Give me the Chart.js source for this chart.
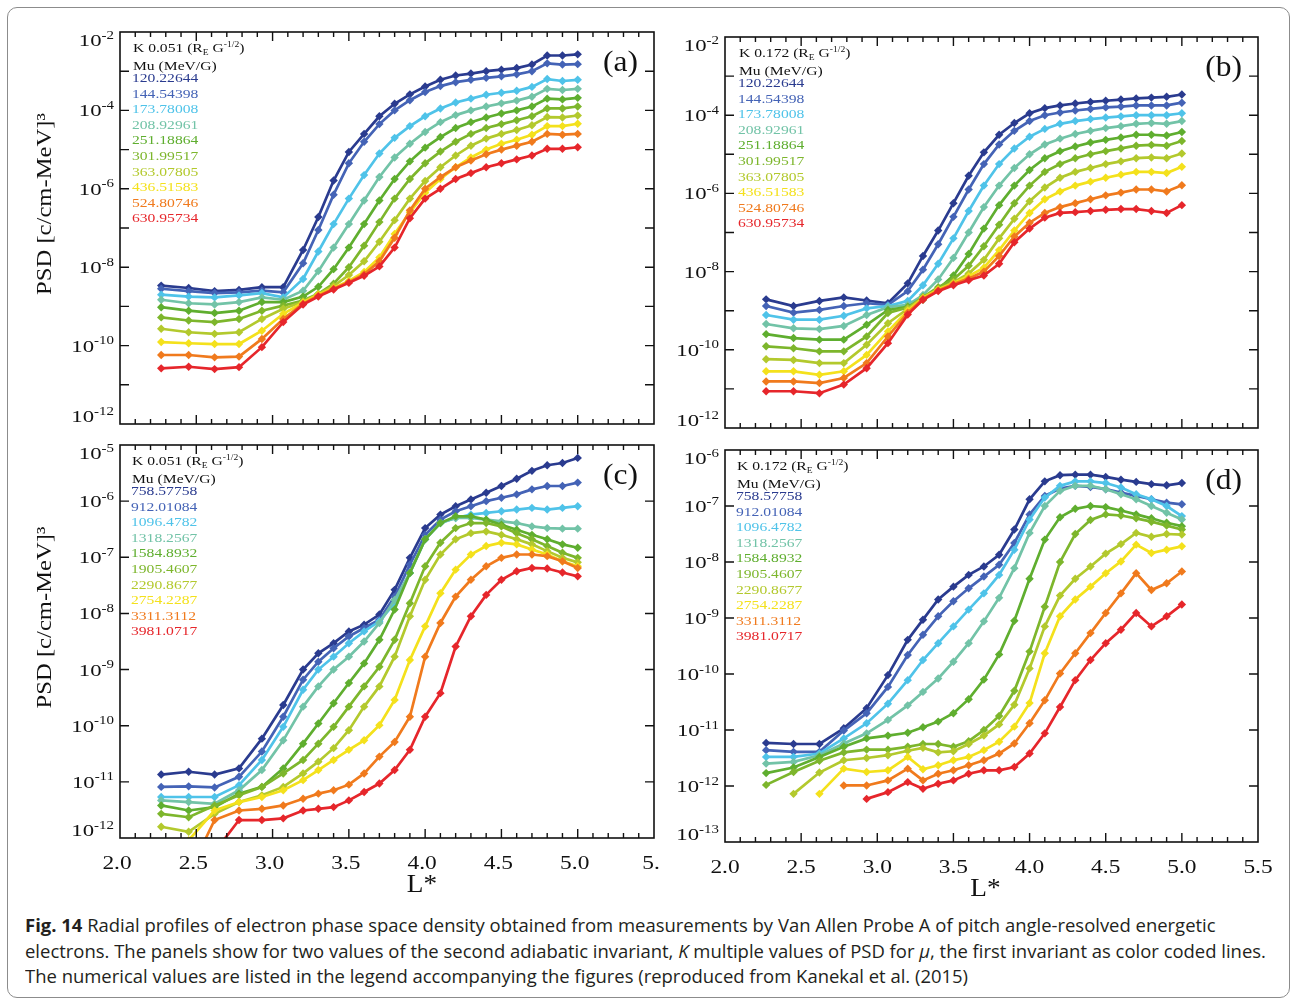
<!DOCTYPE html>
<html>
<head>
<meta charset="utf-8">
<script src="https://cdn.jsdelivr.net/npm/chart.js@4.4.1/dist/chart.umd.min.js"></script>
<style>
  html, body { margin: 0; padding: 0; background: #fff; }
  #page { position: relative; width: 1294px; height: 1003px; overflow: hidden; background: #fff; }
  #frame { position: absolute; left: 7px; top: 7px; width: 1283px; height: 991px;
           border: 1.5px solid #8c8c8c; border-radius: 10px; box-sizing: border-box; }
  .panel { position: absolute; }
  .panel canvas { display: block; }
  #caption { position: absolute; left: 25px; top: 913px; white-space: nowrap;
             font-family: 'Open Sans', 'Noto Sans', sans-serif; font-size: 18px; line-height: 25.5px;
             color: #231f20; transform: scaleX(1.025); transform-origin: left top; }
  #caption b { font-weight: 700; }
</style>
</head>
<body>
<div id="page">
  <div id="frame"></div>
  <div class="panel" style="left:0;top:0"><canvas id="panelA" width="660" height="440"></canvas></div>
  <div class="panel" style="left:660px;top:0"><canvas id="panelB" width="634" height="440"></canvas></div>
  <div class="panel" style="left:0;top:440px"><canvas id="panelC" width="660" height="460"></canvas></div>
  <div class="panel" style="left:660px;top:440px"><canvas id="panelD" width="634" height="460"></canvas></div>
  <div id="caption"><b>Fig. 14</b> Radial profiles of electron phase space density obtained from measurements by Van Allen Probe A of pitch angle-resolved energetic<br>electrons. The panels show for two values of the second adiabatic invariant, <i>K</i> multiple values of PSD for <i>μ</i>, the first invariant as color coded lines.<br>The numerical values are listed in the legend accompanying the figures (reproduced from Kanekal et al. (2015)</div>
</div>
<script>
// L* positions of the measurements (same grid in every panel)
const L_GRID = [2.27, 2.45, 2.62, 2.78, 2.93, 3.07, 3.2, 3.3, 3.4, 3.5, 3.6, 3.7, 3.8, 3.9,
                4.0, 4.1, 4.2, 4.3, 4.4, 4.5, 4.6, 4.7, 4.8, 4.9, 5.0];

// first invariant values (MeV/G)
const MU_LOW  = ['120.22644', '144.54398', '173.78008', '208.92961', '251.18864',
                 '301.99517', '363.07805', '436.51583', '524.80746', '630.95734'];
const MU_HIGH = ['758.57758', '912.01084', '1096.4782', '1318.2567', '1584.8932',
                 '1905.4607', '2290.8677', '2754.2287', '3311.3112', '3981.0717'];

const SERIES_COLORS = ['#2a3b8f', '#4463b6', '#4fc3e9', '#72c3a7', '#5fae2f',
                       '#7db62c', '#b3c92d', '#f4e11c', '#f07a1d', '#e6262b'];

// log10 PSD, one row per mu value
const logPsdA = [
  [-8.47,-8.53,-8.61,-8.58,-8.51,-8.51,-7.56,-6.72,-5.79,-5.06,-4.60,-4.15,-3.83,-3.59,-3.39,-3.22,-3.11,-3.06,-3.00,-2.96,-2.92,-2.83,-2.60,-2.60,-2.57],
  [-8.55,-8.61,-8.66,-8.64,-8.60,-8.64,-7.90,-7.05,-6.15,-5.35,-4.80,-4.35,-4.00,-3.74,-3.53,-3.38,-3.28,-3.22,-3.17,-3.13,-3.08,-3.00,-2.80,-2.83,-2.82],
  [-8.70,-8.75,-8.77,-8.72,-8.66,-8.77,-8.30,-7.60,-6.90,-6.25,-5.65,-5.10,-4.70,-4.40,-4.15,-3.95,-3.80,-3.70,-3.60,-3.55,-3.50,-3.40,-3.20,-3.25,-3.22],
  [-8.83,-8.92,-8.95,-8.89,-8.77,-8.83,-8.60,-8.10,-7.50,-6.90,-6.30,-5.70,-5.20,-4.85,-4.55,-4.30,-4.12,-4.00,-3.90,-3.82,-3.75,-3.65,-3.45,-3.48,-3.45],
  [-9.02,-9.11,-9.17,-9.11,-8.89,-8.89,-8.75,-8.50,-8.05,-7.50,-6.90,-6.30,-5.75,-5.30,-4.95,-4.68,-4.45,-4.30,-4.18,-4.08,-4.00,-3.90,-3.70,-3.72,-3.68],
  [-9.28,-9.36,-9.40,-9.32,-9.11,-8.98,-8.85,-8.68,-8.42,-8.00,-7.45,-6.85,-6.25,-5.75,-5.35,-5.05,-4.80,-4.60,-4.45,-4.35,-4.25,-4.15,-3.95,-3.95,-3.90],
  [-9.57,-9.66,-9.70,-9.66,-9.32,-9.06,-8.88,-8.68,-8.48,-8.20,-7.85,-7.35,-6.80,-6.25,-5.80,-5.45,-5.15,-4.90,-4.72,-4.60,-4.50,-4.38,-4.17,-4.18,-4.13],
  [-9.91,-9.94,-9.96,-9.96,-9.62,-9.19,-8.90,-8.70,-8.53,-8.35,-8.12,-7.75,-7.15,-6.60,-6.10,-5.75,-5.45,-5.20,-5.00,-4.85,-4.75,-4.62,-4.40,-4.40,-4.34],
  [-10.24,-10.24,-10.30,-10.28,-9.83,-9.32,-8.93,-8.73,-8.55,-8.38,-8.18,-7.85,-7.25,-6.55,-6.00,-5.70,-5.45,-5.28,-5.12,-5.00,-4.90,-4.80,-4.60,-4.62,-4.60],
  [-10.58,-10.54,-10.60,-10.55,-10.04,-9.40,-8.95,-8.75,-8.57,-8.40,-8.22,-7.98,-7.50,-6.75,-6.25,-6.00,-5.75,-5.60,-5.45,-5.35,-5.25,-5.15,-4.98,-4.98,-4.94]
];

const logPsdB = [
  [-8.71,-8.88,-8.75,-8.66,-8.74,-8.81,-8.30,-7.60,-6.95,-6.25,-5.55,-4.95,-4.50,-4.20,-3.95,-3.82,-3.75,-3.70,-3.66,-3.63,-3.60,-3.57,-3.55,-3.53,-3.47],
  [-8.88,-9.05,-8.98,-8.88,-8.81,-8.85,-8.50,-7.95,-7.30,-6.60,-5.90,-5.25,-4.75,-4.40,-4.15,-4.00,-3.93,-3.88,-3.84,-3.80,-3.78,-3.75,-3.75,-3.75,-3.68],
  [-9.11,-9.23,-9.23,-9.13,-8.94,-8.88,-8.75,-8.35,-7.80,-7.15,-6.45,-5.80,-5.25,-4.85,-4.55,-4.35,-4.22,-4.15,-4.10,-4.06,-4.03,-4.00,-4.00,-4.00,-3.95],
  [-9.34,-9.45,-9.47,-9.39,-9.11,-8.91,-8.85,-8.60,-8.20,-7.65,-7.00,-6.35,-5.80,-5.35,-5.00,-4.75,-4.60,-4.48,-4.40,-4.33,-4.28,-4.22,-4.20,-4.22,-4.15],
  [-9.60,-9.70,-9.74,-9.74,-9.36,-8.98,-8.90,-8.72,-8.45,-8.10,-7.55,-6.90,-6.30,-5.80,-5.40,-5.10,-4.92,-4.80,-4.70,-4.63,-4.57,-4.50,-4.50,-4.52,-4.43],
  [-9.91,-9.96,-10.04,-10.04,-9.66,-9.06,-8.92,-8.65,-8.40,-8.20,-7.85,-7.35,-6.80,-6.25,-5.80,-5.45,-5.25,-5.10,-5.00,-4.92,-4.85,-4.78,-4.76,-4.78,-4.66],
  [-10.24,-10.26,-10.34,-10.34,-9.87,-9.32,-8.95,-8.66,-8.45,-8.27,-8.05,-7.70,-7.15,-6.65,-6.20,-5.85,-5.60,-5.45,-5.35,-5.25,-5.18,-5.10,-5.08,-5.10,-4.98],
  [-10.55,-10.55,-10.64,-10.55,-10.13,-9.53,-9.00,-8.68,-8.46,-8.30,-8.12,-7.90,-7.45,-6.95,-6.50,-6.15,-5.95,-5.80,-5.70,-5.60,-5.52,-5.45,-5.45,-5.48,-5.32],
  [-10.81,-10.81,-10.85,-10.72,-10.34,-9.66,-9.05,-8.70,-8.48,-8.32,-8.18,-8.00,-7.60,-7.10,-6.75,-6.50,-6.35,-6.25,-6.15,-6.05,-5.98,-5.90,-5.90,-5.95,-5.79],
  [-11.06,-11.06,-11.11,-10.89,-10.47,-9.83,-9.10,-8.72,-8.50,-8.35,-8.22,-8.10,-7.80,-7.25,-6.90,-6.62,-6.50,-6.48,-6.45,-6.42,-6.40,-6.40,-6.45,-6.50,-6.30]
];

const logPsdC = [
  [-10.87,-10.82,-10.87,-10.76,-10.23,-9.63,-9.00,-8.71,-8.53,-8.32,-8.20,-8.02,-7.58,-7.01,-6.48,-6.24,-6.09,-5.97,-5.85,-5.73,-5.60,-5.46,-5.36,-5.32,-5.23],
  [-11.09,-11.08,-11.10,-10.91,-10.46,-9.84,-9.18,-8.86,-8.62,-8.41,-8.26,-8.11,-7.70,-7.13,-6.60,-6.33,-6.18,-6.09,-6.00,-5.94,-5.88,-5.79,-5.73,-5.73,-5.67],
  [-11.27,-11.27,-11.27,-11.06,-10.61,-10.02,-9.36,-9.00,-8.77,-8.53,-8.32,-8.14,-7.82,-7.28,-6.68,-6.39,-6.30,-6.24,-6.21,-6.18,-6.15,-6.12,-6.15,-6.12,-6.09],
  [-11.33,-11.36,-11.39,-11.15,-10.79,-10.26,-9.66,-9.30,-9.00,-8.77,-8.50,-8.17,-7.76,-7.28,-6.68,-6.39,-6.30,-6.30,-6.33,-6.36,-6.39,-6.45,-6.48,-6.49,-6.49],
  [-11.42,-11.51,-11.45,-11.21,-11.09,-10.76,-10.32,-9.96,-9.60,-9.24,-8.89,-8.47,-7.93,-7.28,-6.68,-6.39,-6.27,-6.27,-6.33,-6.42,-6.51,-6.60,-6.68,-6.77,-6.83],
  [-11.57,-11.63,-11.42,-11.24,-11.09,-10.85,-10.61,-10.32,-10.02,-9.66,-9.30,-8.95,-8.47,-7.82,-7.16,-6.74,-6.48,-6.39,-6.39,-6.45,-6.57,-6.68,-6.80,-6.92,-7.01],
  [-11.80,-11.89,-11.57,-11.36,-11.24,-11.09,-10.85,-10.64,-10.40,-10.08,-9.66,-9.30,-8.77,-8.05,-7.40,-6.95,-6.68,-6.57,-6.54,-6.60,-6.68,-6.77,-6.89,-7.01,-7.09],
  [-12.64,-12.04,-11.51,-11.36,-11.27,-11.15,-10.97,-10.79,-10.61,-10.43,-10.26,-9.99,-9.54,-8.83,-8.23,-7.64,-7.22,-6.95,-6.80,-6.74,-6.77,-6.86,-6.95,-7.07,-7.16],
  [-13.20,-12.64,-11.68,-11.51,-11.48,-11.42,-11.30,-11.21,-11.15,-11.05,-10.85,-10.55,-10.29,-9.84,-8.77,-8.17,-7.70,-7.40,-7.16,-7.01,-6.95,-6.95,-6.98,-7.07,-7.19],
  [-13.80,-13.30,-12.25,-11.68,-11.68,-11.65,-11.51,-11.48,-11.45,-11.33,-11.18,-11.03,-10.79,-10.43,-9.84,-9.42,-8.59,-8.05,-7.67,-7.40,-7.25,-7.19,-7.20,-7.27,-7.34]
];

const logPsdD = [
  [-11.23,-11.25,-11.25,-10.97,-10.61,-10.02,-9.39,-9.03,-8.67,-8.44,-8.23,-8.08,-7.87,-7.42,-6.88,-6.56,-6.45,-6.44,-6.44,-6.48,-6.53,-6.57,-6.61,-6.63,-6.59],
  [-11.36,-11.39,-11.39,-11.01,-10.70,-10.23,-9.66,-9.30,-8.97,-8.70,-8.47,-8.26,-8.05,-7.66,-7.15,-6.82,-6.69,-6.64,-6.66,-6.70,-6.76,-6.82,-6.88,-6.94,-6.97],
  [-11.48,-11.48,-11.42,-11.15,-10.88,-10.53,-10.11,-9.75,-9.45,-9.15,-8.85,-8.56,-8.23,-7.78,-7.24,-6.85,-6.64,-6.56,-6.56,-6.59,-6.67,-6.79,-6.88,-7.00,-7.18],
  [-11.60,-11.57,-11.45,-11.24,-11.06,-10.82,-10.56,-10.32,-10.08,-9.78,-9.45,-9.06,-8.64,-8.11,-7.48,-7.00,-6.73,-6.64,-6.64,-6.70,-6.79,-6.88,-7.00,-7.12,-7.24],
  [-11.77,-11.67,-11.48,-11.30,-11.15,-11.10,-11.05,-10.95,-10.85,-10.70,-10.45,-10.10,-9.65,-9.05,-8.30,-7.60,-7.20,-7.05,-7.00,-7.02,-7.08,-7.15,-7.22,-7.30,-7.36],
  [-11.98,-11.75,-11.55,-11.40,-11.35,-11.35,-11.30,-11.25,-11.25,-11.30,-11.20,-11.00,-10.75,-10.30,-9.60,-8.80,-8.00,-7.50,-7.25,-7.15,-7.17,-7.22,-7.28,-7.35,-7.42],
  [null,-12.14,-11.76,-11.54,-11.50,-11.45,-11.37,-11.32,-11.40,-11.38,-11.25,-11.10,-10.90,-10.55,-9.90,-9.15,-8.60,-8.30,-8.08,-7.85,-7.68,-7.48,-7.55,-7.50,-7.51],
  [null,null,-12.14,-11.69,-11.75,-11.72,-11.48,-11.70,-11.63,-11.54,-11.48,-11.36,-11.21,-10.94,-10.52,-9.63,-8.97,-8.67,-8.44,-8.20,-7.99,-7.69,-7.84,-7.78,-7.72],
  [null,null,null,-11.99,-11.99,-11.90,-11.69,-11.90,-11.78,-11.72,-11.63,-11.54,-11.42,-11.24,-10.88,-10.47,-9.99,-9.63,-9.27,-8.91,-8.56,-8.20,-8.50,-8.38,-8.17],
  [null,null,null,null,-12.23,-12.11,-11.93,-12.05,-11.96,-11.90,-11.78,-11.72,-11.72,-11.66,-11.42,-11.06,-10.59,-10.11,-9.75,-9.45,-9.21,-8.91,-9.15,-8.97,-8.76]
];

// axis labels
const X_TICK_VALUES = [2.0, 2.5, 3.0, 3.5, 4.0, 4.5, 5.0, 5.5];
const X_LABELS_C = ['2.0', '2.5', '3.0', '3.5', '4.0', '4.5', '5.0', '5.'];
const X_LABELS_D = ['2.0', '2.5', '3.0', '3.5', '4.0', '4.5', '5.0', '5.5'];
const Y_EXPS_TOP = [-2, -4, -6, -8, -10, -12];
const Y_EXPS_C = [-5, -6, -7, -8, -9, -10, -11, -12];
const Y_EXPS_D = [-6, -7, -8, -9, -10, -11, -12, -13];

const SERIF = '"Liberation Serif", "DejaVu Serif", serif';

// text with a horizontal stretch, returns drawn width
function stretchText(ctx, s, x, y, size, sx, align, color) {
  ctx.save();
  ctx.font = size + 'px ' + SERIF;
  const w = ctx.measureText(s).width * sx;
  let x0 = x;
  if (align === 'right') x0 = x - w;
  else if (align === 'center') x0 = x - w / 2;
  ctx.translate(x0, y);
  ctx.scale(sx, 1);
  ctx.fillStyle = color || '#111';
  ctx.textAlign = 'left';
  ctx.textBaseline = 'alphabetic';
  ctx.fillText(s, 0, 0);
  ctx.restore();
  return w;
}

function textWidth(ctx, s, size, sx) {
  ctx.save();
  ctx.font = size + 'px ' + SERIF;
  const w = ctx.measureText(s).width * sx;
  ctx.restore();
  return w;
}

function drawPow10(ctx, exp, xRight, yMid) {
  const wb = textWidth(ctx, '10', 17.5, 1.3);
  const ws = textWidth(ctx, String(exp), 11.5, 1.3);
  const x0 = xRight - wb - ws;
  stretchText(ctx, '10', x0, yMid + 6, 17.5, 1.3);
  stretchText(ctx, String(exp), x0 + wb, yMid - 1.5, 11.5, 1.3);
}

function makeDecor(cfg) {
  return {
    id: 'panelDecor',
    afterDatasetsDraw(chart) {
      const ctx = chart.ctx, a = chart.chartArea;
      const xs = chart.scales.x, ys = chart.scales.y;
      ctx.save();
      ctx.strokeStyle = '#111';
      ctx.lineWidth = 1.4;
      ctx.beginPath();
      for (let k = cfg.yMin + 1; k < cfg.yMax; k++) {
        const y = ys.getPixelForValue(Math.pow(10, k));
        ctx.moveTo(a.left, y); ctx.lineTo(a.left + 9, y);
        ctx.moveTo(a.right, y); ctx.lineTo(a.right - 9, y);
      }
      for (let i = 1; i < 35; i++) {
        const x = xs.getPixelForValue(2 + i * 0.1);
        const len = i % 5 === 0 ? 9 : 5;
        ctx.moveTo(x, a.bottom); ctx.lineTo(x, a.bottom - len);
        ctx.moveTo(x, a.top); ctx.lineTo(x, a.top + len);
      }
      ctx.stroke();
      ctx.lineWidth = 1.6;
      ctx.strokeRect(a.left, a.top, a.right - a.left, a.bottom - a.top);
      ctx.restore();
    },
    afterDraw(chart) {
      const ctx = chart.ctx, a = chart.chartArea;
      const xs = chart.scales.x, ys = chart.scales.y;

      // y tick labels
      cfg.yLabels.forEach(function (e) {
        let y = ys.getPixelForValue(Math.pow(10, e));
        y = Math.max(a.top + 8, Math.min(a.bottom - 8, y));
        drawPow10(ctx, e, a.left - 6, y);
      });

      // x tick labels
      if (cfg.xLabels) {
        X_TICK_VALUES.forEach(function (v, i) {
          const x = xs.getPixelForValue(v) + cfg.xLabelShift;
          stretchText(ctx, cfg.xLabels[i], x, a.bottom + 31, 19.5, 1.2, 'center');
        });
        stretchText(ctx, 'L*', (a.left + a.right) / 2 + cfg.xTitleShift, a.bottom + 54, 26, 1.05, 'center');
      }

      // y title
      if (cfg.yTitle) {
        const s = 'PSD [c/cm-MeV]³';
        const w = textWidth(ctx, s, 22, 1.12);
        ctx.save();
        ctx.translate(43, (a.top + a.bottom) / 2 - 24);
        ctx.rotate(-Math.PI / 2);
        ctx.scale(1.12, 1);
        ctx.font = '22px ' + SERIF;
        ctx.fillStyle = '#111';
        ctx.textBaseline = 'alphabetic';
        ctx.fillText(s, -w / 2 / 1.12, 8);
        ctx.restore();
      }

      // legend header
      let x = a.left + cfg.legendDx;
      const yH = a.top + 20;
      x += stretchText(ctx, 'K ' + cfg.kValue + ' (R', x, yH, 13, 1.2);
      x += stretchText(ctx, 'E', x, yH + 3, 8, 1.2);
      x += stretchText(ctx, ' G', x, yH, 13, 1.2);
      x += stretchText(ctx, '-1/2', x, yH - 5, 8, 1.2);
      stretchText(ctx, ')', x, yH, 13, 1.2);
      stretchText(ctx, 'Mu (MeV/G)', a.left + cfg.legendDx, a.top + 38, 13, 1.2);
      cfg.mu.forEach(function (m, i) {
        stretchText(ctx, m, a.left + cfg.legendDx - 1, a.top + 50 + i * 15.6, 13, 1.2, 'left', SERIES_COLORS[i]);
      });

      // panel letter
      stretchText(ctx, cfg.letter, a.right - 16, a.top + 39, 30, 1.05, 'right');
    }
  };
}

function makePanel(canvasId, cfg) {
  const datasets = cfg.logPsd.map(function (row, i) {
    return {
      label: cfg.mu[i],
      data: L_GRID.map(function (l, j) {
        return { x: l, y: row[j] === null ? null : Math.pow(10, row[j]) };
      }),
      borderColor: SERIES_COLORS[i],
      backgroundColor: SERIES_COLORS[i],
      borderWidth: 2.7,
      pointStyle: 'rectRot',
      pointRadius: 4.2,
      pointBorderWidth: 0,
      tension: 0,
      order: 9 - i
    };
  });
  new Chart(document.getElementById(canvasId), {
    type: 'line',
    data: { datasets: datasets },
    options: {
      responsive: false,
      animation: false,
      devicePixelRatio: 1,
      layout: { padding: cfg.pad },
      plugins: { legend: { display: false }, tooltip: { enabled: false } },
      scales: {
        x: { type: 'linear', min: 2, max: 5.5, display: false },
        y: { type: 'logarithmic', min: Math.pow(10, cfg.yMin), max: Math.pow(10, cfg.yMax), display: false }
      }
    },
    plugins: [makeDecor(cfg)]
  });
}

makePanel('panelA', {
  logPsd: logPsdA, mu: MU_LOW, kValue: '0.051', letter: '(a)',
  yMin: -12, yMax: -2, yLabels: Y_EXPS_TOP, yTitle: true, legendDx: 13,
  pad: { left: 120, top: 32, right: 6, bottom: 16 }
});
makePanel('panelB', {
  logPsd: logPsdB, mu: MU_LOW, kValue: '0.172', letter: '(b)',
  yMin: -12, yMax: -2, yLabels: Y_EXPS_TOP, yTitle: false, legendDx: 14,
  pad: { left: 65, top: 37, right: 36, bottom: 12 }
});
makePanel('panelC', {
  logPsd: logPsdC, mu: MU_HIGH, kValue: '0.051', letter: '(c)',
  yMin: -12, yMax: -5, yLabels: Y_EXPS_C, yTitle: true, legendDx: 12,
  xLabels: X_LABELS_C, xLabelShift: -3, xTitleShift: 35,
  pad: { left: 120, top: 5, right: 6, bottom: 62 }
});
makePanel('panelD', {
  logPsd: logPsdD, mu: MU_HIGH, kValue: '0.172', letter: '(d)',
  yMin: -13, yMax: -6, yLabels: Y_EXPS_D, yTitle: false, legendDx: 12,
  xLabels: X_LABELS_D, xLabelShift: 0, xTitleShift: -6,
  pad: { left: 65, top: 10, right: 36, bottom: 58 }
});
</script>
</body>
</html>
